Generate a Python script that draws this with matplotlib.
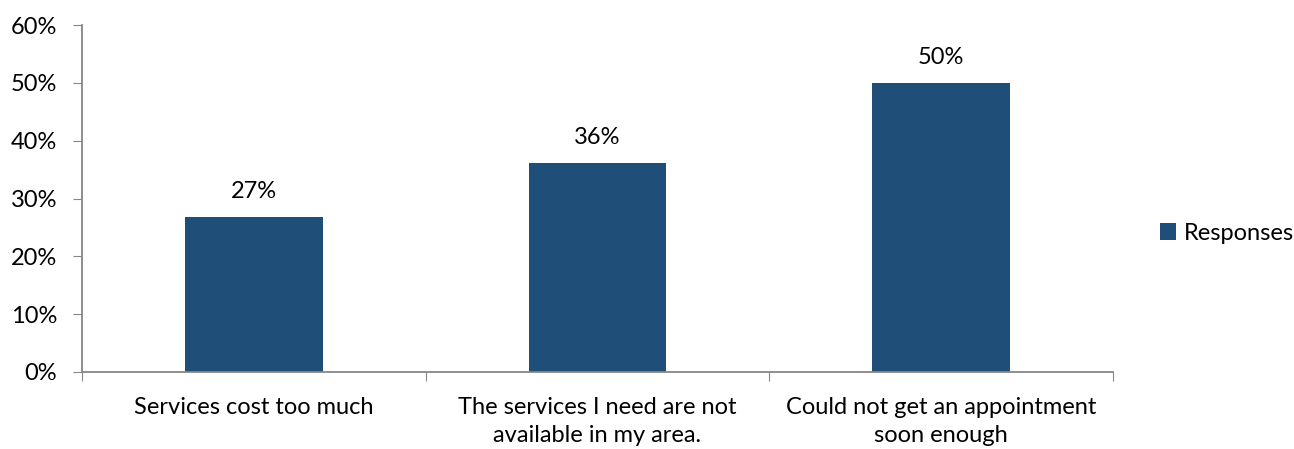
import matplotlib.pyplot as plt
import numpy as np

categories = ['Services cost too much',
              'The services I need are not\navailable in my area.',
              'Could not get an appointment\nsoon enough']
responses = [26.8, 36.1, 50.0]
value_labels = ['27%', '36%', '50%']
y_ticks = [0, 10, 20, 30, 40, 50, 60]

plt.rcParams['font.family'] = ['Lato', 'DejaVu Sans']
bar_color = '#1f4e79'
axis_color = '#868686'
fs = 17

fig = plt.figure(figsize=(12.94, 4.49), dpi=100)
ax = fig.add_axes([0.0634, 0.1715, 0.7966, 0.7728])

x = np.arange(len(categories))
bars = ax.bar(x, responses, width=0.4, color=bar_color, label='Responses', zorder=2)

for xi, v, lab in zip(x, responses, value_labels):
    ax.text(xi, v + 2.6, lab, ha='center', va='bottom', fontsize=fs)

ax.set_xlim(-0.5, len(categories) - 0.5)
ax.set_ylim(0, 60)
ax.set_yticks(y_ticks)
ax.set_yticklabels(['%d%%' % t for t in y_ticks], fontsize=fs)

# category boundaries carry the tick marks, labels sit in the middle
ax.set_xticks(np.arange(-0.5, len(categories), 1.0))
ax.set_xticklabels([])
ax.set_xticks(x, minor=True)
ax.set_xticklabels(categories, minor=True, fontsize=fs, linespacing=1.42)
ax.tick_params(axis='x', which='minor', length=0, pad=18)
ax.tick_params(axis='x', which='major', length=6.5, color=axis_color, direction='out')
ax.tick_params(axis='y', length=6.5, color=axis_color, direction='out', pad=11.5)

for side in ['top', 'right']:
    ax.spines[side].set_visible(False)
for side in ['left', 'bottom']:
    ax.spines[side].set_color(axis_color)
    ax.spines[side].set_linewidth(1.3)

fig.legend(handles=[bars], labels=['Responses'], loc='center left',
           bbox_to_anchor=(0.880, 0.48), frameon=False, fontsize=fs,
           handlelength=0.7, handleheight=0.7, handletextpad=0.3)

fig.savefig('out.png', dpi=100)
